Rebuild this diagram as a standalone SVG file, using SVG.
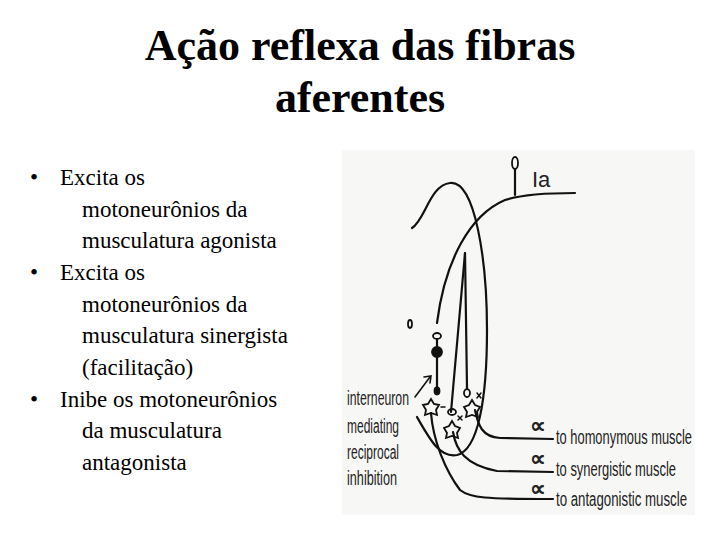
<svg xmlns="http://www.w3.org/2000/svg" width="720" height="540" viewBox="0 0 720 540">
<style>
.t{font-family:"Liberation Serif",serif;font-weight:bold;font-size:44px;text-anchor:middle}
.b{font-family:"Liberation Serif",serif;font-size:23px}
.l{font-family:"Liberation Sans",sans-serif;font-size:20px;fill:#222}
.s{fill:none;stroke:#111;stroke-width:2.2;stroke-linecap:round}
</style>
<rect width="720" height="540" fill="#fff"/>
<text class="t" x="360" y="60">Ação reflexa das fibras</text>
<text class="t" x="360" y="112">aferentes</text>
<g id="bullets" class="b">
<text x="30" y="185">•</text><text x="60" y="185">Excita os</text>
<text x="82" y="217">motoneurônios da</text>
<text x="82" y="248">musculatura agonista</text>
<text x="30" y="280">•</text><text x="60" y="280">Excita os</text>
<text x="82" y="312">motoneurônios da</text>
<text x="82" y="343">musculatura sinergista</text>
<text x="82" y="375">(facilitação)</text>
<text x="30" y="407">•</text><text x="60" y="407">Inibe os motoneurônios</text>
<text x="82" y="438">da musculatura</text>
<text x="82" y="470">antagonista</text>
</g>
<rect x="342" y="150" width="353" height="365" fill="#f7f7f5"/>
<g id="connectors" class="s">
<path d="M575,193 C540,193 520,195 505,200 C470,215 445,260 437,323"/>
<path d="M515,195 V170"/>
<path d="M412,228 C425,220 430,185 450,183 C475,180 487,260 487,330 C487,400 478,450 457,455 C440,458 430,440 417,417"/>
<path d="M465,253 L451,412"/>
<path d="M465,253 L467,388"/>
<path d="M437,340 V390"/>
<path d="M475,410 C478,425 482,437 500,438 L553,439"/>
<path d="M453,432 C456,450 465,465 497,471 L553,472"/>
<path d="M431,413 C433,440 445,470 460,490 C470,498 485,499 553,499"/>
<path d="M415,397 L430,377" stroke-width="1.6"/>
<path d="M424,377 L431,376 L430,383" stroke-width="1.6"/>
<path d="M441,407 h4 M477,398 l4,-5 M477,393 l4,5 M458,420 l4,-4 M458,416 l4,4" stroke-width="1.5"/>
</g>
<g id="somata" fill="none" stroke="#111" stroke-width="1.8">
<ellipse cx="515" cy="163" rx="3" ry="6"/>
<ellipse cx="410" cy="324" rx="2" ry="4"/>
<ellipse cx="437" cy="336" rx="4" ry="3"/>
<circle cx="437" cy="352" r="5" fill="#111"/>
<ellipse cx="437" cy="391" rx="2.5" ry="3.5" fill="#111"/>
<ellipse cx="452" cy="412" rx="4" ry="3"/>
<ellipse cx="467" cy="393" rx="3" ry="4"/>
<path d="M431,399 L434,404 L439,405 L436,410 L437,415 L431,413 L425,415 L426,410 L423,405 L428,404 Z"/>
<path d="M452,421 L455,426 L460,428 L457,433 L458,438 L452,436 L446,438 L447,433 L444,428 L449,426 Z"/>
<path d="M472,400 L475,405 L480,407 L477,412 L478,417 L472,415 L466,417 L467,412 L464,407 L469,405 Z"/>
</g>
<g id="labels" class="l">
<text x="532" y="187" font-size="22">Ia</text>
<text x="347" y="405" textLength="62" lengthAdjust="spacingAndGlyphs">interneuron</text>
<text x="347" y="433" textLength="52" lengthAdjust="spacingAndGlyphs">mediating</text>
<text x="347" y="459" textLength="52" lengthAdjust="spacingAndGlyphs">reciprocal</text>
<text x="347" y="485" textLength="50" lengthAdjust="spacingAndGlyphs">inhibition</text>
<text x="530" y="433" font-size="22" font-weight="bold">∝</text>
<text x="530" y="466" font-size="22" font-weight="bold">∝</text>
<text x="530" y="496" font-size="22" font-weight="bold">∝</text>
<text x="556" y="444" textLength="136" lengthAdjust="spacingAndGlyphs">to homonymous muscle</text>
<text x="556" y="476" textLength="120" lengthAdjust="spacingAndGlyphs">to synergistic muscle</text>
<text x="556" y="506" textLength="131" lengthAdjust="spacingAndGlyphs">to antagonistic muscle</text>
</g>
</svg>
